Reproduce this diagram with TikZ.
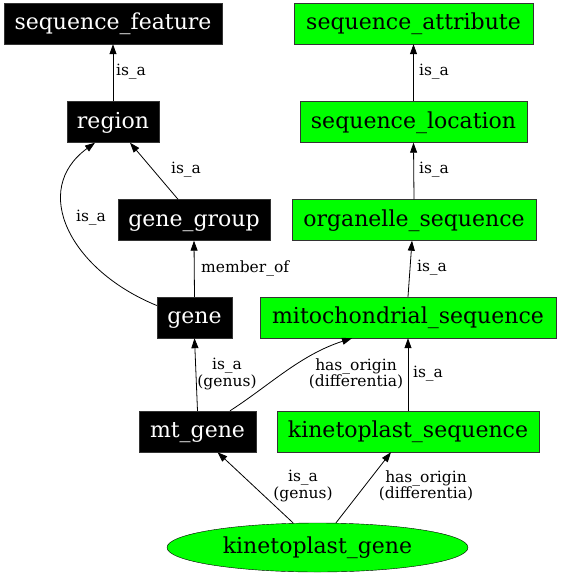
\documentclass[tikz,border=0pt]{standalone}
\usepackage{fontspec}
\setmainfont{DejaVu Serif}
\usetikzlibrary{arrows.meta,shapes.geometric,calc}
\begin{document}
\begin{tikzpicture}[x=1pt,y=-1pt,
  nodefont/.style={font=\fontsize{22}{24}\selectfont,text height=16pt,text depth=3.4pt},
  blk/.style={rectangle,draw=black!80,fill=black,text=white,inner sep=0pt,minimum height=41pt,nodefont},
  grn/.style={rectangle,draw=black!80,fill=green,text=black,inner sep=0pt,minimum height=41pt,nodefont},
  edge/.style={draw=black,line width=0.8pt,-{Triangle[length=10pt,width=7pt]}},
  lab/.style={font=\fontsize{15.5}{16.5}\selectfont,inner sep=0pt,align=center}]
\useasboundingbox (0,0) rectangle (560,576);
\node[blk,minimum width=218pt] (sf) at (113,23.5) {sequence\_feature};
\node[blk,minimum width=92pt] (region) at (113,122) {region};
\node[blk,minimum width=152pt] (gg) at (194,220) {gene\_group};
\node[blk,minimum width=75pt] (gene) at (194.5,317.5) {gene};
\node[blk,minimum width=117pt] (mt) at (197.5,431.5) {mt\_gene};
\node[grn,minimum width=239pt] (sa) at (413.5,23.5) {sequence\_attribute};
\node[grn,minimum width=227pt] (sl) at (413.5,122) {sequence\_location};
\node[grn,minimum width=244pt] (os) at (414,220) {organelle\_sequence};
\node[grn,minimum width=296pt] (ms) at (408,317.5) {mitochondrial\_sequence};
\node[grn,minimum width=262pt] (ks) at (408,431.5) {kinetoplast\_sequence};
\node[ellipse,draw=black,fill=green,inner sep=0pt,minimum width=301pt,minimum height=49pt,nodefont] (kg) at (317.5,547.5) {kinetoplast\_gene};
% edges
\draw[edge] (region.north) -- (sf.south);
\node[lab] (l1) at (131,72) {is\_a};
\draw[edge] ($(gg.north)+(-16,0)$) -- ($(region.south)+(17,0)$);
\node[lab] (l2) at (186,170) {is\_a};
\draw[edge] ($(gene.west)+(0,-12)$) .. controls (70,270) and (30,190) .. ($(region.south)+(-18,0)$);
\node[lab] (l3) at (91,218) {is\_a};
\draw[edge] (gene.north) -- (gg.south);
\node[lab,anchor=west] (l4) at (201,268) {member\_of};
\draw[edge] (mt.north) -- (gene.south);
\node[lab] (l5) at (227,374) {is\_a\\(genus)};
\draw[edge] ($(mt.north)+(32.5,0)$) .. controls (270,385) and (300,355) .. ($(ms.south)+(-56,0)$);
\node[lab] (l6) at (356,374) {has\_origin\\(differentia)};
\draw[edge] (ks.north) -- (ms.south);
\node[lab] (l7) at (428,374) {is\_a};
\draw[edge] (ms.north) -- ($(os.south)+(-2,0)$);
\node[lab] (l8) at (432,268) {is\_a};
\draw[edge] (os.north) -- (sl.south);
\node[lab] (l9) at (434,170) {is\_a};
\draw[edge] (sl.north) -- (sa.south);
\node[lab] (l10) at (434,72) {is\_a};
\draw[edge] ($(kg.north)+(-24.5,0)$) -- ($(mt.south)+(20,0)$);
\node[lab] (l11) at (303,486) {is\_a\\(genus)};
\draw[edge] ($(kg.north)+(18.5,0)$) -- ($(ks.south)+(-17,0)$);
\node[lab] (l12) at (426,486) {has\_origin\\(differentia)};
\end{tikzpicture}
\end{document}
